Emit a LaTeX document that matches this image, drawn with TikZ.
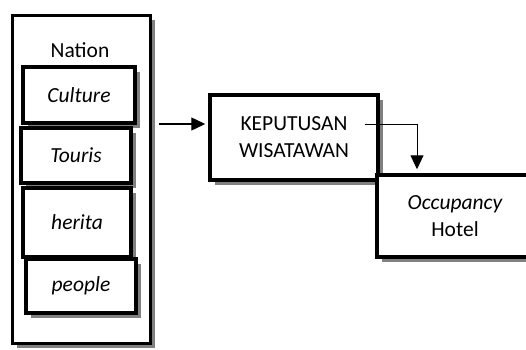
\documentclass[tikz,border=0pt]{standalone}
\usepackage{fontspec}
\setmainfont{Carlito}
\usetikzlibrary{shadows,arrows.meta}
\begin{document}
\begin{tikzpicture}[x=1pt,y=-1pt,font=\fontsize{21.5}{27}\selectfont,
  box node/.style={draw,line width=3.5pt,fill=white,inner sep=0pt,align=center,
    drop shadow={shadow xshift=5pt,shadow yshift=-5pt,fill=gray,opacity=1}},
  arrow line/.style={line width=1.4pt,-{Triangle[length=14pt,width=13pt]}}]
                \useasboundingbox (0,0) rectangle (526,349);
                \node[box node,line width=3pt,minimum width=138pt,minimum height=328pt] at (81,179) (nation) {};
                \node at (80,50) (title) {Nation};
                \node[box node,minimum width=112pt,minimum height=56pt] at (79,95) (culture) {\itshape Culture};
                \node[box node,minimum width=110pt,minimum height=55pt] at (76,155.5) (touris) {\itshape Touris};
                \node[box node,minimum width=108pt,minimum height=69pt] at (77,222.5) (herita) {\itshape herita};
                \node[box node,minimum width=110pt,minimum height=54pt] at (81,286) (people) {\itshape people};
                \node[box node,minimum width=168pt,minimum height=85pt] at (294,137.5) (kep) {KEPUTUSAN\\WISATAWAN};
                \node[box node,minimum width=156pt,minimum height=82pt] at (455,216) (occ) {\itshape Occupancy\\Hotel};
                \coordinate (start) at (159,124);
                \coordinate (turn) at (365,124);
                \path[arrow line] (start) edge[shorten >=3pt] (kep.west |- start);
                \draw[arrow line,line width=1pt] (turn) -| ([xshift=-38pt,yshift=4pt]occ.north);
            \end{tikzpicture}
\end{document}
